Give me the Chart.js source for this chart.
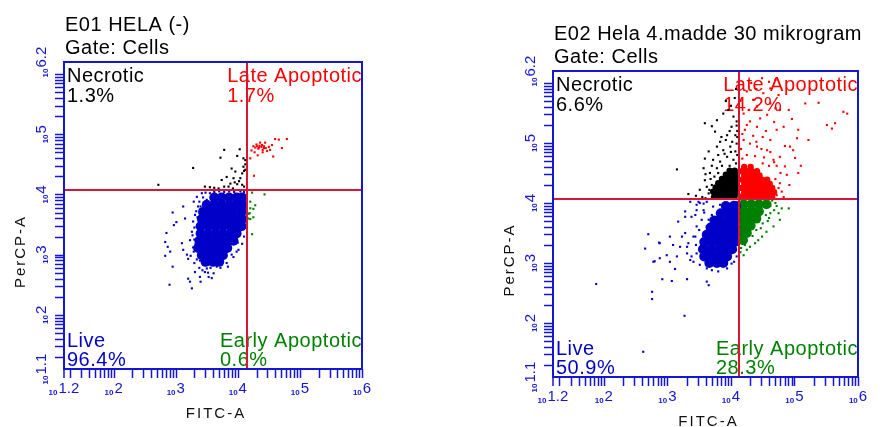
<!DOCTYPE html>
<html>
<head>
<meta charset="utf-8">
<script src="https://cdn.jsdelivr.net/npm/chart.js@4.4.1/dist/chart.umd.min.js"></script>
<style>
  body { margin: 0; background: #fff; width: 881px; height: 427px; position: relative; overflow: hidden; }
  canvas { position: absolute; top: 0; }
  #left { left: 0; }
  #right { left: 440px; }
</style>
</head>
<body>
<canvas id="left" width="440" height="427"></canvas>
<canvas id="right" width="441" height="427"></canvas>
<script>
// axes are in log10 units (FITC-A on x, PerCP-A on y)
const xTicks = [1.2, 2, 3, 4, 5, 6];
const yTicks = [1.1, 2, 3, 4, 5, 6.2];
const quadrants = ['Necrotic', 'Late Apoptotic', 'Live', 'Early Apoptotic'];

const e01Title = ['E01 HELA (-)', 'Gate: Cells'];
const e01Pct = ['1.3%', '1.7%', '96.4%', '0.6%'];
const e01Gate = [4.15, 4.07];

const e02Title = ['E02 Hela 4.madde 30 mikrogram', 'Gate: Cells'];
const e02Pct = ['6.6%', '14.2%', '50.9%', '28.3%'];
const e02Gate = [4.13, 4.07];

// E01 events
const e01LiveCore = [
  [3.62,3.95],[3.74,3.95],[3.86,3.95],[3.98,3.95],[4.07,3.95],
  [3.50,3.83],[3.62,3.83],[3.74,3.83],[3.86,3.83],[3.98,3.83],[4.07,3.83],
  [3.44,3.71],[3.56,3.71],[3.68,3.71],[3.80,3.71],[3.92,3.71],[4.06,3.71],
  [3.42,3.59],[3.54,3.59],[3.66,3.59],[3.78,3.59],[3.90,3.59],[4.02,3.59],[4.07,3.59],
  [3.40,3.47],[3.52,3.47],[3.64,3.47],[3.76,3.47],[3.88,3.47],[4.00,3.47],[4.06,3.47],
  [3.40,3.35],[3.52,3.35],[3.64,3.35],[3.76,3.35],[3.88,3.35],[3.98,3.35],
  [3.38,3.23],[3.50,3.23],[3.62,3.23],[3.74,3.23],[3.86,3.23],[3.93,3.23],
  [3.36,3.11],[3.48,3.11],[3.60,3.11],[3.72,3.11],[3.83,3.11],
  [3.42,2.99],[3.54,2.99],[3.66,2.99],[3.76,2.99],
  [3.48,2.88],[3.60,2.88],[3.70,2.88]
];
const e01Live = [
  [3.12,3.80],[2.95,3.70],[3.15,3.60],[3.01,3.54],[2.97,3.49],[2.85,3.36],[2.83,3.21],[2.87,3.13],
  [2.91,3.05],[2.83,2.98],[2.95,2.80],[2.90,2.50],[3.26,2.44],[3.23,2.55],[3.31,2.71],[3.39,2.63],
  [3.47,2.71],[3.50,2.77],[3.58,2.61],[3.53,2.63],[3.29,3.88],[3.34,3.96],[3.42,4.02],[3.10,3.19],
  [3.12,3.08],[3.18,3.00],[3.23,3.24],[3.26,3.38],[3.20,2.93],[3.66,2.80],[3.82,2.86],[3.93,2.96],
  [4.01,3.08],[4.07,3.18],[3.45,2.83],[3.39,2.90],[4.12,3.93],[4.04,4.05],[3.55,4.02],[3.50,3.91],
  [3.31,3.66],[3.28,3.55],[3.48,4.03],[3.62,4.04],[3.70,4.05],[3.78,4.04],[3.86,4.05],[3.94,4.04],
  [4.10,4.04],[3.36,3.80],[3.30,3.45],[3.30,3.25],[3.29,3.05],[3.34,2.92],[3.56,2.78],[3.72,2.78],
  [3.90,3.00],[4.00,3.20],[4.10,3.30],[4.12,3.45],[4.13,3.62],[4.13,3.78],[3.43,2.74],[3.61,2.69],
  [3.20,2.60],[3.40,2.55],[3.38,3.88],[3.44,3.95],[3.40,3.80],[3.33,3.72],[3.35,3.62],[3.27,3.32],
  [3.32,3.18],[3.28,3.12],[3.24,2.98],[3.30,2.86],[3.38,2.78],[3.52,2.70],[3.84,2.80],[3.98,3.05]
];
const e01Necrotic = [
  [2.72,4.16],[3.28,4.44],[3.72,4.61],[3.78,4.74],[4.03,4.75],[3.99,4.64],[3.90,4.43],[4.09,4.60],
  [4.07,4.35],[4.04,4.27],[3.93,4.27],[3.82,4.29],[3.74,4.24],[3.88,4.18],[3.99,4.17],[4.07,4.16],
  [3.47,4.13],[3.55,4.12],[3.69,4.10],[3.78,4.13],[4.10,4.13],[4.09,4.46],[4.12,4.41],[4.12,4.57],
  [3.96,4.38],[3.85,4.13],[4.12,4.50],[4.10,4.39],[3.95,4.20],[4.02,4.22],[3.62,4.11],[3.92,4.10]
];
const e01Late = [
  [4.25,4.80],[4.28,4.78],[4.30,4.83],[4.33,4.76],[4.35,4.81],[4.38,4.79],[4.40,4.74],[4.42,4.80],
  [4.45,4.77],[4.47,4.72],[4.50,4.79],[4.22,4.73],[4.27,4.70],[4.36,4.86],[4.44,4.86],[4.55,4.82],
  [4.60,4.92],[4.66,4.91],[4.79,4.92],[4.71,4.77],[4.57,4.63],[4.20,4.60],[4.26,4.31],[4.32,4.65],
  [4.40,4.70],[4.52,4.74],[4.31,4.80],[4.39,4.82],[4.34,4.78],[4.42,4.77]
];
const e01Early = [
  [4.23,4.03],[4.43,4.00],[4.20,3.88],[4.28,3.82],[4.20,3.77],[4.25,3.76],[4.19,3.69],[4.25,3.62],
  [4.17,3.60],[4.20,3.59],[4.23,3.34],[4.18,3.68]
];

// E02 events
const e02LiveCore = [
  [3.92,3.95],[4.04,3.95],[4.08,3.95],
  [3.84,3.83],[3.96,3.83],[4.07,3.83],
  [3.74,3.71],[3.86,3.71],[3.98,3.71],[4.07,3.71],
  [3.68,3.59],[3.80,3.59],[3.92,3.59],[4.04,3.59],[4.07,3.59],
  [3.62,3.47],[3.74,3.47],[3.86,3.47],[3.98,3.47],[4.07,3.47],
  [3.58,3.35],[3.70,3.35],[3.82,3.35],[3.94,3.35],[4.06,3.35],
  [3.56,3.23],[3.68,3.23],[3.80,3.23],[3.92,3.23],[4.02,3.23],
  [3.58,3.11],[3.70,3.11],[3.82,3.11],[3.94,3.11],
  [3.66,3.00],[3.78,3.00],[3.88,3.00]
];
const e02Live = [
  [1.88,2.65],[2.62,1.52],[3.27,2.12],[2.76,2.52],[2.76,2.40],[2.92,2.73],[3.07,2.70],[3.31,2.73],
  [3.62,2.69],[3.65,2.63],[2.80,3.03],[2.65,3.24],[2.70,3.48],[2.87,3.34],[3.04,3.44],[2.99,3.13],
  [3.04,3.02],[3.12,2.90],[3.17,3.69],[3.28,3.77],[3.44,3.80],[3.46,3.97],[3.51,4.00],[3.62,4.02],
  [3.20,3.27],[3.28,3.50],[3.33,3.33],[3.31,3.16],[3.38,3.11],[3.41,3.44],[3.46,3.61],[3.51,3.22],
  [3.41,3.02],[3.51,2.97],[3.62,2.91],[3.70,2.88],[3.80,2.86],[3.94,2.91],[4.01,2.99],[4.09,3.11],
  [3.72,3.94],[3.83,3.97],[3.57,3.88],[3.54,3.72],[3.62,3.61],[3.94,3.99],[4.04,4.02],[3.15,3.11],
  [2.88,3.08],[3.09,3.30],[3.23,3.44],[2.88,3.33],[2.78,3.02],[3.36,4.02],[3.49,4.02],[3.57,3.99],
  [3.28,3.86],[3.38,3.77],[3.46,3.88],[3.65,3.72],[3.44,3.44],[3.31,3.27],[3.36,3.05],[3.46,3.16],
  [3.58,3.84],[3.70,3.80],[3.50,3.55],[3.45,3.30],[3.56,3.05],[3.75,2.95],[3.86,3.00],[4.05,3.02]
];
const e02NecroticCore = [
  [3.74,4.12],[3.82,4.12],[3.90,4.12],[3.98,4.12],[4.06,4.12],
  [3.72,4.19],[3.80,4.19],[3.88,4.19],[3.96,4.19],[4.04,4.19],[4.09,4.19],
  [3.76,4.26],[3.84,4.26],[3.92,4.26],[4.00,4.26],[4.08,4.26],
  [3.80,4.33],[3.88,4.33],[3.96,4.33],[4.04,4.33],[4.09,4.33],
  [3.86,4.40],[3.94,4.40],[4.02,4.40],[4.08,4.40],
  [3.92,4.47],[4.00,4.47],[4.08,4.47],
  [3.98,4.54],[4.06,4.54]
];
const e02Necrotic = [
  [3.15,4.56],[3.33,4.15],[3.51,4.22],[3.59,4.38],[3.57,4.58],[3.59,4.74],[3.65,4.86],[3.59,5.33],
  [3.78,5.38],[3.75,5.19],[3.83,5.02],[3.88,5.49],[3.96,5.55],[4.04,5.44],[4.01,5.27],[3.94,5.13],
  [4.07,5.13],[3.78,4.94],[3.88,4.88],[3.99,4.94],[4.07,4.86],[3.72,4.72],[3.83,4.69],[3.94,4.77],
  [4.04,4.72],[3.67,4.50],[3.78,4.58],[3.62,4.27],[3.65,4.16],[4.09,4.99],[4.09,5.36],[4.09,5.29],
  [3.70,4.62],[3.86,4.62],[3.98,4.62],[4.08,4.66],[3.90,4.82],[4.00,4.85],[4.10,4.80],[3.80,4.80],
  [3.55,4.10],[3.45,4.12],[3.60,4.48],[3.68,4.40],[3.92,5.05],[4.02,5.02],[4.10,5.10],[3.85,5.10],
  [3.98,5.20],[4.10,5.20],[3.70,5.28],[4.00,5.62],[3.92,5.70],[4.06,5.75],[4.08,5.90],[3.60,4.08],
  [3.70,4.30],[3.74,4.44],[3.80,4.50],[3.66,4.22],[3.70,4.10]
];
const e02LateCore = [
  [4.17,4.11],[4.25,4.11],[4.33,4.11],[4.41,4.11],[4.49,4.11],[4.57,4.11],[4.65,4.11],
  [4.21,4.18],[4.29,4.18],[4.37,4.18],[4.45,4.18],[4.53,4.18],[4.61,4.18],[4.68,4.18],
  [4.17,4.25],[4.25,4.25],[4.33,4.25],[4.41,4.25],[4.49,4.25],[4.57,4.25],[4.65,4.25],
  [4.21,4.32],[4.29,4.32],[4.37,4.32],[4.45,4.32],[4.53,4.32],[4.61,4.32],
  [4.17,4.39],[4.25,4.39],[4.33,4.39],[4.41,4.39],[4.49,4.39],[4.57,4.39],
  [4.21,4.46],[4.29,4.46],[4.37,4.46],[4.45,4.46],
  [4.17,4.53],[4.25,4.53],[4.33,4.53],[4.41,4.53],
  [4.21,4.60],[4.31,4.60]
];
const e02Late = [
  [5.77,5.52],[5.83,5.49],[5.51,5.30],[5.64,5.33],[5.59,5.24],[5.38,5.67],[5.17,5.66],[5.22,5.05],
  [5.06,5.22],[5.04,5.08],[4.93,4.94],[4.98,4.88],[5.01,4.75],[5.06,4.50],[4.83,5.27],[4.72,5.22],
  [4.62,5.05],[4.91,5.55],[4.77,5.55],[4.70,5.58],[4.41,5.61],[4.28,5.55],[4.20,5.49],[4.30,5.36],
  [4.22,5.22],[4.41,5.27],[4.46,5.41],[4.57,5.47],[4.51,5.83],[4.62,5.91],[4.75,5.80],[4.25,5.86],
  [4.70,6.05],[4.49,6.08],[4.41,4.94],[4.30,4.99],[4.20,5.05],[4.57,4.88],[4.67,4.72],[4.77,4.77],
  [4.85,4.61],[4.88,4.47],[4.77,4.33],[4.80,4.19],[4.72,4.13],[4.83,4.10],[4.62,5.66],[4.15,5.70],
  [4.35,5.72],[4.25,5.30],[4.18,5.15],[4.35,5.12],[4.50,5.10],[4.48,4.90],[4.62,4.85],[4.25,4.80],
  [4.38,4.78],[4.52,4.76],[4.18,4.74],[4.72,4.62],[4.78,4.50],[4.70,4.40],[4.75,4.25],[4.68,4.68],
  [4.60,4.62],[4.50,4.66],[4.16,4.90],[4.40,5.02],[4.55,5.20],[4.68,5.35],[4.96,5.40],[4.32,6.00],
  [4.60,6.02],[4.40,5.90],[4.85,4.95],[5.10,4.62],[4.92,4.30]
];
const e02EarlyCore = [
  [4.20,3.98],[4.32,3.98],[4.44,3.98],[4.56,3.98],
  [4.20,3.86],[4.32,3.86],[4.44,3.86],
  [4.20,3.74],[4.30,3.74],[4.40,3.74],
  [4.20,3.62],[4.31,3.62],
  [4.20,3.50],[4.25,3.50],
  [4.19,3.38]
];
const e02Early = [
  [4.80,3.91],[4.91,3.91],[4.77,3.72],[4.67,3.61],[4.56,3.52],[4.49,3.44],[4.38,3.33],[4.25,3.22],
  [4.20,3.13],[4.30,3.27],[4.43,3.38],[4.62,3.83],[4.75,3.83],[4.22,3.30],[4.65,4.04],[4.70,4.00],
  [4.62,3.95],[4.55,3.80],[4.50,3.66],[4.40,3.55],[4.34,3.45],[4.16,3.25],[4.15,3.18],[4.60,3.75],
  [4.68,3.88],[4.72,3.95],[4.58,3.70],[4.47,3.58]
];

const BLUE = '#0000c8';
const AXIS = '#1515d5';
const RED = '#ff0000';
const GREEN = '#008000';
const GATE = '#dc1432';
const FONT = '"Liberation Sans", Arial, sans-serif';

function dots(arr, color, size) {
  return {
    data: arr.map(p => ({ x: p[0], y: p[1] })),
    backgroundColor: color,
    borderWidth: 0,
    pointStyle: size ? 'circle' : 'rect',
    pointRadius: size || 1.5,
    pointHoverRadius: size || 1.5
  };
}

// "10" small, exponent larger, centred on the tick
function powLabel(ctx, exp) {
  ctx.font = 'bold 8px ' + FONT;
  const w1 = ctx.measureText('10').width;
  ctx.font = '15px ' + FONT;
  const w2 = ctx.measureText(exp).width;
  const start = -(w1 + w2 + 1) / 2;
  ctx.font = 'bold 8px ' + FONT;
  ctx.fillText('10', start, 2);
  ctx.font = '15px ' + FONT;
  ctx.fillText(exp, start + w1 + 1, 0);
}

const flowPlugin = {
  id: 'flow',
  beforeDatasetsDraw(chart, args, opts) {
    const ctx = chart.ctx;
    const a = chart.chartArea;
    ctx.save();
    ctx.font = '20px ' + FONT;
    ctx.letterSpacing = '0.5px';
    ctx.textAlign = 'left';
    ctx.textBaseline = 'alphabetic';
    ctx.fillStyle = '#000';
    ctx.fillText(quadrants[0], a.left + 3, a.top + 20);
    ctx.fillText(opts.pct[0], a.left + 3, a.top + 40);
    ctx.fillStyle = BLUE;
    ctx.fillText(quadrants[2], a.left + 3, a.bottom - 22);
    ctx.fillText(opts.pct[2], a.left + 3, a.bottom - 3);
    let w = ctx.measureText(quadrants[1]).width;
    ctx.fillStyle = RED;
    ctx.fillText(quadrants[1], a.right - w, a.top + 20);
    ctx.fillText(opts.pct[1], a.right - w, a.top + 40);
    w = ctx.measureText(quadrants[3]).width;
    ctx.fillStyle = GREEN;
    ctx.fillText(quadrants[3], a.right - w, a.bottom - 22);
    ctx.fillText(opts.pct[3], a.right - w, a.bottom - 3);
    ctx.restore();
  },
  afterDatasetsDraw(chart, args, opts) {
    const ctx = chart.ctx;
    const a = chart.chartArea;
    const xs = chart.scales.x, ys = chart.scales.y;
    ctx.save();

    // quadrant gates
    ctx.strokeStyle = GATE;
    ctx.lineWidth = 2;
    const gx = Math.round(xs.getPixelForValue(opts.gate[0]));
    const gy = Math.round(ys.getPixelForValue(opts.gate[1]));
    ctx.beginPath();
    ctx.moveTo(gx, a.top); ctx.lineTo(gx, a.bottom);
    ctx.moveTo(a.left, gy); ctx.lineTo(a.right, gy);
    ctx.stroke();

    // frame
    ctx.strokeStyle = AXIS;
    ctx.lineWidth = 2;
    ctx.strokeRect(a.left, a.top, a.right - a.left, a.bottom - a.top);

    // log ticks
    ctx.lineWidth = 1.5;
    ctx.beginPath();
    for (let d = 1; d <= 6; d++) {
      for (let k = 1; k <= 9; k++) {
        const v = d + Math.log10(k);
        if (v >= xs.min - 1e-6 && v <= xs.max + 1e-6) {
          const px = Math.round(xs.getPixelForValue(v)) + 0.5;
          ctx.moveTo(px, a.bottom); ctx.lineTo(px, a.bottom + 9);
        }
        if (v >= ys.min - 1e-6 && v <= ys.max + 1e-6) {
          const py = Math.round(ys.getPixelForValue(v)) + 0.5;
          ctx.moveTo(a.left, py); ctx.lineTo(a.left - 9, py);
        }
      }
    }
    ctx.moveTo(a.left, a.bottom); ctx.lineTo(a.left, a.bottom + 9);
    ctx.stroke();

    // tick labels
    ctx.fillStyle = AXIS;
    ctx.textAlign = 'left';
    ctx.textBaseline = 'alphabetic';
    xTicks.forEach(v => {
      ctx.save();
      ctx.translate(xs.getPixelForValue(v), a.bottom + 24);
      powLabel(ctx, String(v));
      ctx.restore();
    });
    yTicks.forEach(v => {
      ctx.save();
      ctx.translate(a.left - 18, ys.getPixelForValue(v));
      ctx.rotate(-Math.PI / 2);
      powLabel(ctx, String(v));
      ctx.restore();
    });

    // titles
    ctx.fillStyle = '#000';
    ctx.font = '20px ' + FONT;
    ctx.letterSpacing = '0.5px';
    ctx.fillText(opts.title[0], a.left + 1, a.top - 31);
    ctx.fillText(opts.title[1], a.left + 1, a.top - 8);

    // axis titles
    ctx.font = '15px ' + FONT;
    ctx.letterSpacing = '2px';
    ctx.fillStyle = '#111';
    ctx.textAlign = 'center';
    ctx.fillText('FITC-A', (a.left + a.right) / 2 + 3, a.bottom + 49);
    ctx.save();
    ctx.translate(a.left - 39, (a.top + a.bottom) / 2 + 36);
    ctx.rotate(-Math.PI / 2);
    ctx.fillText('PerCP-A', 0, 0);
    ctx.restore();
    ctx.restore();
  }
};

function makeChart(id, datasets, pad, opts) {
  return new Chart(document.getElementById(id), {
    type: 'scatter',
    data: { datasets: datasets },
    options: {
      responsive: false,
      animation: false,
      events: [],
      layout: { padding: pad },
      scales: {
        x: { type: 'linear', min: xTicks[0], max: xTicks[xTicks.length - 1], display: false },
        y: { type: 'linear', min: yTicks[0], max: yTicks[yTicks.length - 1], display: false }
      },
      plugins: {
        legend: { display: false },
        tooltip: { enabled: false },
        flow: opts
      }
    },
    plugins: [flowPlugin]
  });
}

makeChart('left', [
  dots(e01LiveCore, BLUE, 5),
  dots(e01Live, BLUE),
  dots(e01Necrotic, '#000'),
  dots(e01Late, RED),
  dots(e01Early, GREEN)
], { left: 64, right: 78, top: 62, bottom: 58 }, { title: e01Title, pct: e01Pct, gate: e01Gate });

makeChart('right', [
  dots(e02LiveCore, BLUE, 5),
  dots(e02Live, BLUE),
  dots(e02NecroticCore, '#000', 3.2),
  dots(e02Necrotic, '#000'),
  dots(e02LateCore, RED, 3.2),
  dots(e02Late, RED),
  dots(e02EarlyCore, GREEN, 5),
  dots(e02Early, GREEN)
], { left: 113, right: 23, top: 71, bottom: 50 }, { title: e02Title, pct: e02Pct, gate: e02Gate });
</script>
</body>
</html>
